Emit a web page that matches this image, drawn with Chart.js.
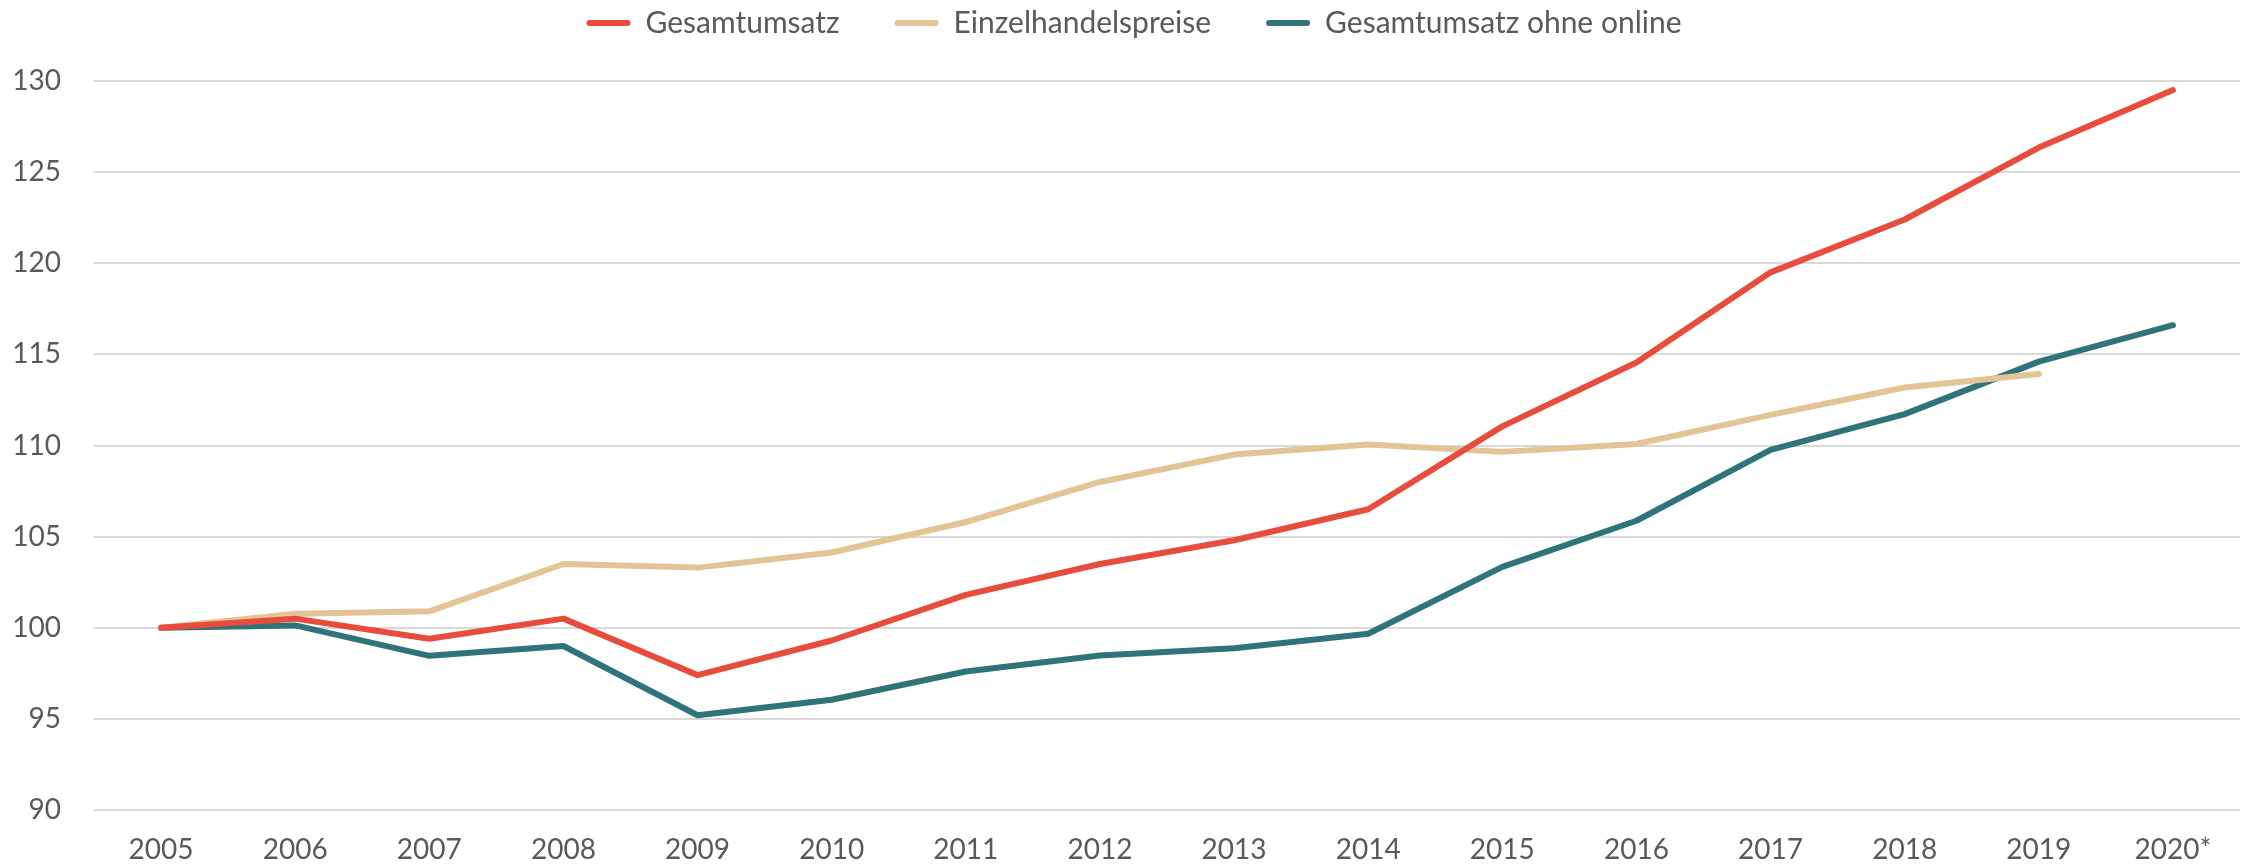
<!DOCTYPE html>
<html>
<head>
<meta charset="utf-8">
<script src="https://cdn.jsdelivr.net/npm/chart.js@4"></script>
<style>
  html, body { margin: 0; padding: 0; background: #ffffff; }
  #wrap { width: 2246px; height: 866px; }
</style>
</head>
<body>
<div id="wrap"><canvas id="c" width="2246" height="866"></canvas></div>
<script>
const categories = ["2005","2006","2007","2008","2009","2010","2011","2012","2013","2014","2015","2016","2017","2018","2019","2020*"];
const gesamtumsatz = [100, 100.5, 99.4, 100.5, 97.4, 99.3, 101.8, 103.5, 104.8, 106.5, 111.05, 114.55, 119.5, 122.4, 126.35, 129.5];
const einzelhandelspreise = [100, 100.77, 100.9, 103.5, 103.3, 104.13, 105.8, 108.0, 109.5, 110.05, 109.65, 110.08, 111.68, 113.18, 113.92, null];
const ohneOnline = [100, 100.13, 98.46, 99.0, 95.2, 96.05, 97.6, 98.48, 98.87, 99.67, 103.34, 105.87, 109.76, 111.72, 114.6, 116.6];
const seriesNames = ["Gesamtumsatz", "Einzelhandelspreise", "Gesamtumsatz ohne online"];
const seriesColors = ["#E84C3D", "#E1C595", "#2F737B"];
const yMin = 90, yMax = 130, yStep = 5;

const FONT = "Lato, 'Open Sans', sans-serif";
const TEXT = "#595959";
const LEGEND_HEIGHT = 81;   // chart area starts below this
const LEGEND_SHIFT = 47;    // lift legend row up so horizontal gaps can stay wide
const LEGEND_LEFT_OFFSET = 28; // nudges the centred legend row to the right

function ds(label, data, color) {
  return {
    label, data,
    borderColor: color, backgroundColor: color,
    borderWidth: 6, pointRadius: 0, pointHoverRadius: 0,
    tension: 0, fill: false,
    borderCapStyle: 'round', borderJoinStyle: 'round',
    spanGaps: false
  };
}

const legendPlacement = {
  id: 'legendPlacement',
  beforeLayout(chart) {
    const lg = chart.legend;
    if (lg && !lg.__wrapped) {
      lg.__wrapped = true;
      const fit = lg.fit;
      lg.fit = function () { fit.call(this); this.height = LEGEND_HEIGHT; };
      const draw = lg.draw;
      lg.draw = function (...args) {
        const t = this.top, l = this.left;
        this.top = t - LEGEND_SHIFT;
        this.left = l + LEGEND_LEFT_OFFSET;
        draw.apply(this, args);
        this.top = t;
        this.left = l;
      };
    }
  }
};

new Chart(document.getElementById('c'), {
  type: 'line',
  data: {
    labels: categories,
    datasets: [
      ds(seriesNames[0], gesamtumsatz, seriesColors[0]),
      ds(seriesNames[1], einzelhandelspreise, seriesColors[1]),
      ds(seriesNames[2], ohneOnline, seriesColors[2])
    ]
  },
  plugins: [legendPlacement],
  options: {
    responsive: false,
    animation: false,
    devicePixelRatio: 1,
    layout: { padding: { left: 0, right: 6, top: 0, bottom: 0 } },
    plugins: {
      legend: {
        position: 'top',
        labels: {
          font: { family: FONT, size: 30 },
          color: TEXT,
          boxWidth: 44,
          boxHeight: 6,
          useBorderRadius: true,
          borderRadius: 3,
          padding: 55,
          generateLabels(chart) {
            const items = Chart.defaults.plugins.legend.labels.generateLabels(chart);
            return items.map(it => Object.assign(it, { lineWidth: 0, fillStyle: it.strokeStyle }));
          }
        }
      },
      tooltip: { enabled: false }
    },
    scales: {
      x: {
        offset: true,
        grid: { display: false, drawTicks: false },
        border: { display: false },
        ticks: { font: { family: FONT, size: 28, lineHeight: 1 }, color: TEXT, padding: 26, maxRotation: 0, autoSkip: false },
        afterFit(scale) { scale.height = 56; }
      },
      y: {
        min: yMin, max: yMax,
        grid: { color: '#D9D9D9', lineWidth: 2, drawTicks: false },
        border: { display: false },
        ticks: { stepSize: yStep, font: { family: FONT, size: 28 }, color: TEXT, padding: 33 },
        afterFit(scale) { scale.width = 94; }
      }
    }
  }
});
</script>
</body>
</html>
